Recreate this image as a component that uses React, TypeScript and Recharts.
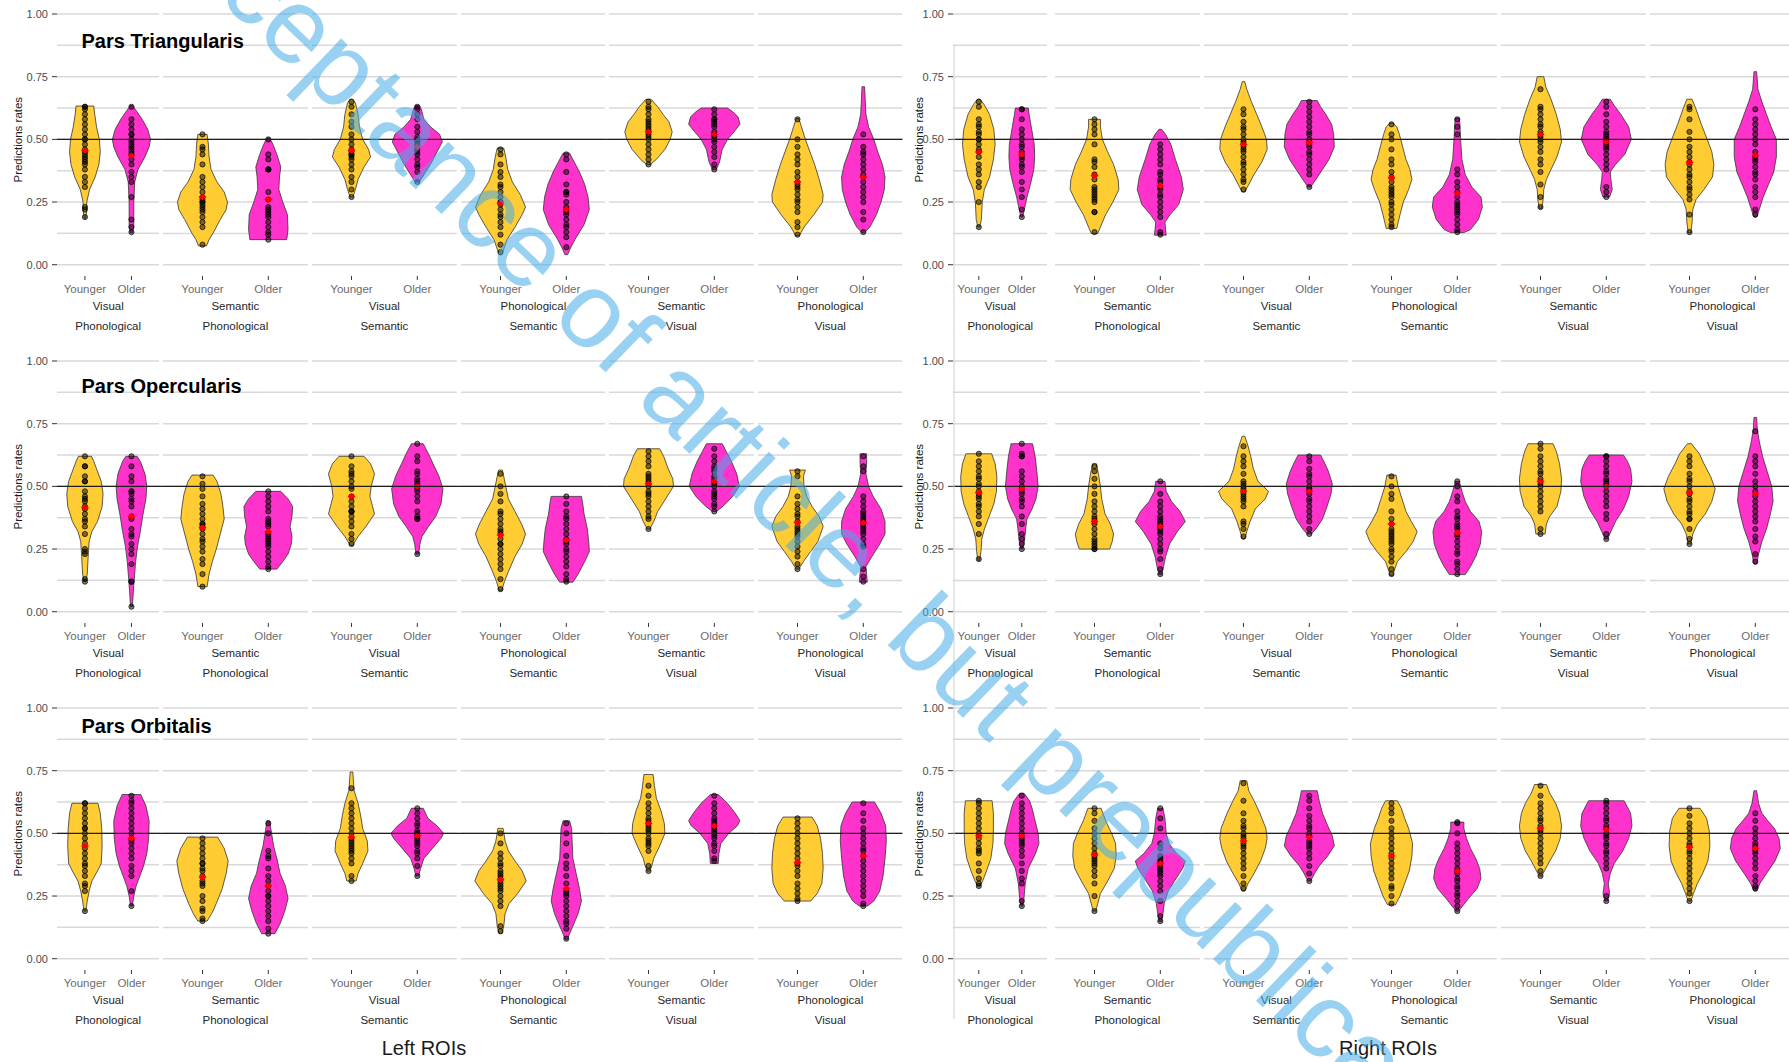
import React from 'react';
import { ComposedChart, Scatter, XAxis, YAxis, CartesianGrid, ReferenceLine } from 'recharts';

type Outline = [number, number][];

// ---- categories and labels ----
const ageGroups = ['Younger', 'Older'];
const contrastTop = ['Visual', 'Semantic', 'Visual', 'Phonological', 'Semantic', 'Phonological'];
const contrastBottom = ['Phonological', 'Phonological', 'Semantic', 'Semantic', 'Visual', 'Visual'];
const regionTitles = ['Pars Triangularis', 'Pars Opercularis', 'Pars Orbitalis'];
const hemisphereTitles = ['Left ROIs', 'Right ROIs'];
const yAxisTitle = 'Predictions rates';
const yTickValues = [0, 0.25, 0.5, 0.75, 1];
const gridValues = [0, 0.125, 0.25, 0.375, 0.5, 0.625, 0.75, 0.875, 1];
const chanceLevel = 0.5;
const noticeText = 'Acceptance of article, but prepublication';

// ---- violin outlines: [prediction rate, half width in category units], bottom to top ----
// order in every list: Younger, Older for each of the six contrasts
const triLeftShapes: Outline[] = [
  [[0.185, 0.01], [0.2, 0.03], [0.25, 0.04], [0.3, 0.1], [0.35, 0.22], [0.4, 0.3], [0.45, 0.33], [0.5, 0.31], [0.55, 0.25], [0.6, 0.21], [0.633, 0.19]],
  [[0.128, 0.02], [0.15, 0.05], [0.25, 0.05], [0.33, 0.07], [0.38, 0.14], [0.43, 0.29], [0.47, 0.38], [0.5, 0.41], [0.54, 0.35], [0.58, 0.23], [0.615, 0.1], [0.635, 0.02]],
  [[0.075, 0.06], [0.1, 0.1], [0.13, 0.17], [0.18, 0.27], [0.22, 0.36], [0.25, 0.38], [0.29, 0.33], [0.33, 0.22], [0.38, 0.13], [0.43, 0.1], [0.48, 0.09], [0.52, 0.07]],
  [[0.1, 0.28], [0.14, 0.3], [0.2, 0.29], [0.25, 0.22], [0.3, 0.16], [0.35, 0.17], [0.39, 0.19], [0.44, 0.13], [0.48, 0.07], [0.505, 0.02]],
  [[0.27, 0.02], [0.3, 0.06], [0.34, 0.1], [0.39, 0.19], [0.43, 0.29], [0.46, 0.26], [0.5, 0.17], [0.55, 0.12], [0.6, 0.1], [0.645, 0.06], [0.66, 0.02]],
  [[0.33, 0.03], [0.35, 0.08], [0.4, 0.2], [0.45, 0.3], [0.49, 0.38], [0.52, 0.34], [0.55, 0.2], [0.58, 0.1], [0.62, 0.06], [0.635, 0.03]],
  [[0.04, 0.02], [0.07, 0.06], [0.1, 0.1], [0.15, 0.22], [0.2, 0.33], [0.23, 0.38], [0.28, 0.3], [0.33, 0.18], [0.38, 0.11], [0.43, 0.08], [0.465, 0.05]],
  [[0.04, 0.02], [0.07, 0.07], [0.1, 0.13], [0.16, 0.27], [0.22, 0.35], [0.27, 0.33], [0.32, 0.28], [0.37, 0.2], [0.41, 0.12], [0.445, 0.05]],
  [[0.4, 0.03], [0.42, 0.12], [0.46, 0.25], [0.5, 0.33], [0.53, 0.36], [0.57, 0.31], [0.6, 0.22], [0.63, 0.14], [0.66, 0.04]],
  [[0.38, 0.03], [0.41, 0.08], [0.46, 0.12], [0.5, 0.2], [0.53, 0.3], [0.56, 0.39], [0.59, 0.36], [0.61, 0.28], [0.625, 0.2]],
  [[0.117, 0.03], [0.15, 0.1], [0.2, 0.25], [0.25, 0.38], [0.28, 0.39], [0.34, 0.33], [0.4, 0.26], [0.45, 0.19], [0.5, 0.12], [0.55, 0.06], [0.583, 0.02]],
  [[0.128, 0.02], [0.15, 0.1], [0.2, 0.2], [0.25, 0.27], [0.3, 0.32], [0.35, 0.33], [0.4, 0.29], [0.45, 0.22], [0.5, 0.16], [0.55, 0.08], [0.6, 0.04], [0.65, 0.03], [0.71, 0.02]],
];
const triRightShapes: Outline[] = [
  [[0.15, 0.02], [0.18, 0.06], [0.25, 0.08], [0.3, 0.13], [0.35, 0.25], [0.42, 0.34], [0.48, 0.38], [0.54, 0.35], [0.6, 0.25], [0.64, 0.12], [0.66, 0.03]],
  [[0.19, 0.02], [0.22, 0.06], [0.27, 0.12], [0.32, 0.2], [0.38, 0.28], [0.43, 0.3], [0.48, 0.29], [0.55, 0.22], [0.6, 0.17], [0.625, 0.15]],
  [[0.125, 0.05], [0.15, 0.09], [0.2, 0.17], [0.25, 0.28], [0.3, 0.37], [0.34, 0.36], [0.4, 0.29], [0.45, 0.2], [0.5, 0.12], [0.55, 0.09], [0.58, 0.09]],
  [[0.118, 0.09], [0.14, 0.08], [0.17, 0.07], [0.2, 0.15], [0.24, 0.28], [0.3, 0.35], [0.35, 0.32], [0.42, 0.23], [0.48, 0.16], [0.52, 0.08], [0.54, 0.02]],
  [[0.29, 0.02], [0.32, 0.08], [0.36, 0.16], [0.41, 0.28], [0.46, 0.36], [0.5, 0.35], [0.55, 0.28], [0.6, 0.2], [0.65, 0.12], [0.7, 0.05], [0.73, 0.02]],
  [[0.31, 0.02], [0.34, 0.1], [0.38, 0.2], [0.42, 0.3], [0.47, 0.38], [0.52, 0.37], [0.56, 0.34], [0.6, 0.25], [0.63, 0.17], [0.655, 0.12]],
  [[0.145, 0.08], [0.2, 0.13], [0.25, 0.18], [0.3, 0.26], [0.34, 0.31], [0.38, 0.28], [0.42, 0.22], [0.47, 0.17], [0.52, 0.12], [0.55, 0.08], [0.565, 0.02]],
  [[0.128, 0.1], [0.14, 0.2], [0.18, 0.32], [0.23, 0.38], [0.27, 0.36], [0.31, 0.22], [0.36, 0.12], [0.42, 0.07], [0.5, 0.05], [0.56, 0.04], [0.585, 0.03]],
  [[0.225, 0.02], [0.26, 0.04], [0.3, 0.05], [0.34, 0.09], [0.38, 0.16], [0.43, 0.25], [0.49, 0.32], [0.54, 0.3], [0.6, 0.24], [0.66, 0.16], [0.71, 0.08], [0.75, 0.05]],
  [[0.27, 0.05], [0.3, 0.09], [0.34, 0.07], [0.37, 0.06], [0.4, 0.14], [0.44, 0.28], [0.5, 0.38], [0.55, 0.34], [0.6, 0.22], [0.635, 0.12], [0.66, 0.06]],
  [[0.128, 0.02], [0.17, 0.04], [0.22, 0.05], [0.26, 0.1], [0.3, 0.22], [0.35, 0.35], [0.4, 0.37], [0.45, 0.34], [0.5, 0.27], [0.56, 0.18], [0.62, 0.1], [0.66, 0.04]],
  [[0.19, 0.02], [0.22, 0.06], [0.27, 0.12], [0.32, 0.2], [0.37, 0.28], [0.43, 0.32], [0.5, 0.32], [0.55, 0.24], [0.6, 0.17], [0.65, 0.1], [0.7, 0.04], [0.77, 0.02]],
];
const operLeftShapes: Outline[] = [
  [[0.122, 0.02], [0.15, 0.05], [0.22, 0.07], [0.28, 0.09], [0.32, 0.15], [0.36, 0.27], [0.42, 0.37], [0.47, 0.39], [0.52, 0.35], [0.57, 0.25], [0.6, 0.19], [0.62, 0.14]],
  [[0.02, 0.02], [0.08, 0.04], [0.13, 0.06], [0.2, 0.09], [0.26, 0.13], [0.32, 0.19], [0.39, 0.25], [0.45, 0.31], [0.5, 0.33], [0.55, 0.29], [0.6, 0.19], [0.62, 0.12]],
  [[0.1, 0.07], [0.15, 0.1], [0.2, 0.15], [0.25, 0.21], [0.31, 0.27], [0.37, 0.33], [0.42, 0.31], [0.47, 0.28], [0.52, 0.22], [0.545, 0.16]],
  [[0.17, 0.13], [0.2, 0.22], [0.23, 0.3], [0.27, 0.35], [0.3, 0.36], [0.34, 0.33], [0.38, 0.36], [0.42, 0.37], [0.45, 0.3], [0.48, 0.19]],
  [[0.265, 0.02], [0.3, 0.1], [0.34, 0.22], [0.39, 0.35], [0.43, 0.31], [0.46, 0.28], [0.5, 0.3], [0.55, 0.35], [0.59, 0.29], [0.62, 0.19]],
  [[0.23, 0.02], [0.27, 0.04], [0.3, 0.07], [0.34, 0.17], [0.38, 0.28], [0.43, 0.36], [0.49, 0.39], [0.54, 0.33], [0.59, 0.24], [0.63, 0.17], [0.67, 0.09]],
  [[0.085, 0.02], [0.12, 0.06], [0.16, 0.12], [0.22, 0.22], [0.27, 0.33], [0.31, 0.38], [0.35, 0.32], [0.4, 0.22], [0.45, 0.12], [0.5, 0.08], [0.565, 0.03]],
  [[0.118, 0.1], [0.15, 0.18], [0.2, 0.28], [0.24, 0.35], [0.28, 0.34], [0.33, 0.32], [0.39, 0.27], [0.43, 0.25], [0.46, 0.23]],
  [[0.33, 0.02], [0.36, 0.08], [0.4, 0.14], [0.45, 0.26], [0.5, 0.38], [0.53, 0.37], [0.57, 0.3], [0.62, 0.23], [0.65, 0.17]],
  [[0.4, 0.03], [0.42, 0.13], [0.46, 0.28], [0.5, 0.38], [0.55, 0.34], [0.6, 0.26], [0.64, 0.18], [0.67, 0.12]],
  [[0.17, 0.02], [0.2, 0.09], [0.24, 0.2], [0.28, 0.31], [0.34, 0.39], [0.38, 0.33], [0.42, 0.22], [0.46, 0.14], [0.5, 0.1], [0.54, 0.09], [0.565, 0.12]],
  [[0.118, 0.06], [0.15, 0.05], [0.18, 0.04], [0.22, 0.13], [0.27, 0.25], [0.31, 0.33], [0.36, 0.33], [0.41, 0.27], [0.46, 0.15], [0.5, 0.08], [0.55, 0.04], [0.6, 0.05], [0.63, 0.05]],
];
const operRightShapes: Outline[] = [
  [[0.205, 0.02], [0.24, 0.05], [0.29, 0.07], [0.33, 0.13], [0.38, 0.24], [0.43, 0.35], [0.48, 0.41], [0.54, 0.42], [0.59, 0.38], [0.63, 0.3]],
  [[0.25, 0.02], [0.28, 0.06], [0.33, 0.09], [0.37, 0.12], [0.41, 0.24], [0.45, 0.33], [0.5, 0.38], [0.56, 0.35], [0.62, 0.31], [0.67, 0.25]],
  [[0.25, 0.23], [0.28, 0.27], [0.31, 0.29], [0.35, 0.24], [0.39, 0.16], [0.45, 0.11], [0.5, 0.09], [0.55, 0.06], [0.59, 0.03]],
  [[0.148, 0.02], [0.18, 0.05], [0.22, 0.08], [0.27, 0.14], [0.32, 0.26], [0.36, 0.38], [0.4, 0.3], [0.44, 0.17], [0.48, 0.09], [0.52, 0.07]],
  [[0.29, 0.02], [0.32, 0.05], [0.36, 0.1], [0.41, 0.18], [0.45, 0.33], [0.48, 0.38], [0.52, 0.22], [0.57, 0.15], [0.62, 0.11], [0.66, 0.07], [0.7, 0.02]],
  [[0.31, 0.03], [0.33, 0.1], [0.37, 0.2], [0.42, 0.27], [0.47, 0.33], [0.51, 0.35], [0.56, 0.29], [0.6, 0.22], [0.625, 0.17]],
  [[0.145, 0.02], [0.17, 0.05], [0.2, 0.09], [0.24, 0.22], [0.28, 0.33], [0.32, 0.39], [0.36, 0.3], [0.4, 0.22], [0.45, 0.16], [0.5, 0.1], [0.545, 0.07]],
  [[0.148, 0.12], [0.18, 0.2], [0.22, 0.28], [0.27, 0.35], [0.32, 0.37], [0.36, 0.33], [0.4, 0.2], [0.44, 0.12], [0.48, 0.07], [0.52, 0.03]],
  [[0.31, 0.07], [0.35, 0.09], [0.38, 0.14], [0.42, 0.25], [0.48, 0.31], [0.53, 0.32], [0.59, 0.29], [0.64, 0.24], [0.67, 0.19]],
  [[0.29, 0.02], [0.32, 0.07], [0.36, 0.14], [0.41, 0.26], [0.46, 0.34], [0.52, 0.39], [0.57, 0.37], [0.6, 0.32], [0.625, 0.26]],
  [[0.27, 0.02], [0.31, 0.05], [0.35, 0.12], [0.39, 0.24], [0.44, 0.34], [0.49, 0.39], [0.54, 0.32], [0.59, 0.22], [0.63, 0.15], [0.67, 0.03]],
  [[0.19, 0.02], [0.23, 0.05], [0.28, 0.1], [0.33, 0.17], [0.38, 0.22], [0.44, 0.27], [0.5, 0.25], [0.56, 0.18], [0.62, 0.11], [0.68, 0.06], [0.73, 0.03], [0.775, 0.02]],
];
const orbLeftShapes: Outline[] = [
  [[0.19, 0.02], [0.23, 0.05], [0.27, 0.09], [0.31, 0.15], [0.35, 0.27], [0.38, 0.35], [0.45, 0.37], [0.52, 0.36], [0.58, 0.33], [0.62, 0.28]],
  [[0.21, 0.02], [0.25, 0.05], [0.29, 0.1], [0.33, 0.18], [0.37, 0.26], [0.42, 0.33], [0.48, 0.37], [0.55, 0.38], [0.61, 0.31], [0.655, 0.2]],
  [[0.15, 0.07], [0.18, 0.14], [0.22, 0.21], [0.28, 0.3], [0.34, 0.36], [0.39, 0.39], [0.44, 0.33], [0.485, 0.23]],
  [[0.1, 0.1], [0.14, 0.18], [0.19, 0.25], [0.24, 0.3], [0.29, 0.26], [0.34, 0.18], [0.4, 0.13], [0.45, 0.08], [0.5, 0.05], [0.55, 0.02]],
  [[0.31, 0.07], [0.34, 0.1], [0.38, 0.17], [0.43, 0.25], [0.47, 0.24], [0.52, 0.17], [0.57, 0.14], [0.62, 0.1], [0.67, 0.04], [0.745, 0.02]],
  [[0.33, 0.02], [0.36, 0.05], [0.4, 0.1], [0.44, 0.23], [0.48, 0.36], [0.5, 0.4], [0.53, 0.3], [0.56, 0.16], [0.6, 0.09]],
  [[0.1, 0.02], [0.13, 0.05], [0.18, 0.07], [0.22, 0.13], [0.26, 0.26], [0.31, 0.39], [0.35, 0.33], [0.39, 0.22], [0.43, 0.12], [0.47, 0.07], [0.52, 0.04]],
  [[0.078, 0.02], [0.1, 0.05], [0.13, 0.1], [0.18, 0.18], [0.23, 0.23], [0.28, 0.2], [0.34, 0.15], [0.4, 0.1], [0.46, 0.09], [0.52, 0.08], [0.55, 0.05]],
  [[0.35, 0.02], [0.37, 0.05], [0.4, 0.08], [0.45, 0.17], [0.5, 0.25], [0.54, 0.24], [0.59, 0.19], [0.64, 0.12], [0.69, 0.09], [0.735, 0.07]],
  [[0.38, 0.06], [0.42, 0.07], [0.46, 0.1], [0.5, 0.22], [0.53, 0.35], [0.55, 0.39], [0.58, 0.32], [0.62, 0.2], [0.655, 0.06]],
  [[0.23, 0.2], [0.26, 0.3], [0.3, 0.37], [0.36, 0.39], [0.42, 0.38], [0.48, 0.35], [0.53, 0.3], [0.565, 0.22]],
  [[0.21, 0.06], [0.23, 0.16], [0.27, 0.25], [0.33, 0.3], [0.4, 0.33], [0.47, 0.35], [0.53, 0.34], [0.58, 0.27], [0.625, 0.17]],
];
const orbRightShapes: Outline[] = [
  [[0.29, 0.02], [0.31, 0.09], [0.35, 0.18], [0.4, 0.28], [0.46, 0.33], [0.52, 0.34], [0.58, 0.34], [0.63, 0.31]],
  [[0.21, 0.02], [0.24, 0.05], [0.3, 0.08], [0.36, 0.15], [0.42, 0.32], [0.46, 0.4], [0.5, 0.38], [0.55, 0.31], [0.6, 0.24], [0.63, 0.18], [0.66, 0.05]],
  [[0.19, 0.02], [0.22, 0.05], [0.26, 0.09], [0.31, 0.2], [0.36, 0.3], [0.41, 0.33], [0.46, 0.32], [0.5, 0.26], [0.55, 0.17], [0.6, 0.1]],
  [[0.148, 0.02], [0.18, 0.04], [0.22, 0.06], [0.27, 0.12], [0.32, 0.24], [0.36, 0.34], [0.39, 0.38], [0.42, 0.25], [0.46, 0.13], [0.5, 0.09], [0.56, 0.07], [0.6, 0.04]],
  [[0.27, 0.02], [0.3, 0.07], [0.34, 0.16], [0.39, 0.26], [0.44, 0.33], [0.48, 0.36], [0.52, 0.34], [0.58, 0.25], [0.63, 0.16], [0.67, 0.08], [0.71, 0.05]],
  [[0.31, 0.02], [0.34, 0.08], [0.37, 0.15], [0.41, 0.28], [0.45, 0.38], [0.49, 0.35], [0.53, 0.28], [0.58, 0.2], [0.63, 0.15], [0.67, 0.12]],
  [[0.215, 0.06], [0.25, 0.13], [0.3, 0.2], [0.35, 0.27], [0.41, 0.31], [0.46, 0.32], [0.52, 0.26], [0.56, 0.2], [0.6, 0.15], [0.63, 0.09]],
  [[0.19, 0.02], [0.21, 0.08], [0.24, 0.17], [0.28, 0.3], [0.32, 0.36], [0.36, 0.34], [0.4, 0.28], [0.44, 0.2], [0.48, 0.14], [0.52, 0.1], [0.545, 0.1]],
  [[0.33, 0.02], [0.35, 0.06], [0.39, 0.14], [0.43, 0.23], [0.48, 0.3], [0.53, 0.32], [0.58, 0.29], [0.62, 0.23], [0.66, 0.14], [0.695, 0.09]],
  [[0.23, 0.02], [0.26, 0.05], [0.3, 0.03], [0.34, 0.06], [0.38, 0.12], [0.43, 0.25], [0.48, 0.34], [0.53, 0.39], [0.58, 0.37], [0.63, 0.27]],
  [[0.23, 0.02], [0.26, 0.06], [0.3, 0.12], [0.34, 0.2], [0.39, 0.28], [0.45, 0.31], [0.51, 0.3], [0.56, 0.26], [0.6, 0.16]],
  [[0.27, 0.02], [0.3, 0.07], [0.34, 0.17], [0.39, 0.3], [0.44, 0.38], [0.48, 0.36], [0.52, 0.29], [0.55, 0.19], [0.58, 0.1], [0.62, 0.05], [0.67, 0.02]],
];

// ---- individual participants' prediction rates ----
const triLeftDots: number[][] = [
  [0.19, 0.22, 0.23, 0.31, 0.33, 0.35, 0.38, 0.4, 0.41, 0.42, 0.43, 0.44, 0.45, 0.46, 0.48, 0.5, 0.5, 0.52, 0.54, 0.56, 0.58, 0.6, 0.62, 0.63, 0.63],
  [0.13, 0.15, 0.18, 0.27, 0.33, 0.35, 0.37, 0.4, 0.42, 0.44, 0.45, 0.46, 0.47, 0.48, 0.49, 0.5, 0.52, 0.52, 0.54, 0.56, 0.58, 0.63],
  [0.08, 0.15, 0.17, 0.19, 0.21, 0.22, 0.23, 0.24, 0.25, 0.25, 0.26, 0.27, 0.29, 0.31, 0.33, 0.35, 0.4, 0.44, 0.46, 0.47, 0.52],
  [0.1, 0.12, 0.13, 0.15, 0.17, 0.19, 0.2, 0.21, 0.22, 0.23, 0.26, 0.29, 0.38, 0.38, 0.38, 0.42, 0.44, 0.5],
  [0.27, 0.3, 0.33, 0.35, 0.38, 0.4, 0.42, 0.43, 0.44, 0.44, 0.45, 0.46, 0.48, 0.5, 0.52, 0.55, 0.57, 0.6, 0.63, 0.65],
  [0.33, 0.37, 0.39, 0.4, 0.42, 0.44, 0.45, 0.46, 0.47, 0.48, 0.49, 0.5, 0.51, 0.53, 0.55, 0.58, 0.6, 0.62, 0.63],
  [0.05, 0.08, 0.12, 0.15, 0.17, 0.19, 0.2, 0.22, 0.24, 0.25, 0.25, 0.27, 0.29, 0.31, 0.32, 0.35, 0.37, 0.4, 0.44, 0.46],
  [0.07, 0.11, 0.13, 0.15, 0.16, 0.18, 0.2, 0.21, 0.22, 0.23, 0.25, 0.28, 0.29, 0.29, 0.32, 0.37, 0.42, 0.44],
  [0.4, 0.42, 0.44, 0.46, 0.48, 0.5, 0.51, 0.52, 0.53, 0.54, 0.55, 0.56, 0.57, 0.58, 0.6, 0.62, 0.63, 0.65],
  [0.38, 0.4, 0.43, 0.45, 0.47, 0.49, 0.5, 0.51, 0.52, 0.53, 0.55, 0.56, 0.57, 0.58, 0.58, 0.6, 0.62],
  [0.12, 0.15, 0.17, 0.21, 0.23, 0.25, 0.26, 0.28, 0.3, 0.31, 0.32, 0.33, 0.35, 0.37, 0.4, 0.42, 0.44, 0.47, 0.5, 0.58],
  [0.13, 0.18, 0.21, 0.25, 0.27, 0.29, 0.31, 0.33, 0.35, 0.36, 0.38, 0.4, 0.42, 0.44, 0.45, 0.47, 0.52],
];
const triRightDots: number[][] = [
  [0.15, 0.25, 0.31, 0.33, 0.36, 0.38, 0.4, 0.43, 0.45, 0.46, 0.48, 0.5, 0.5, 0.52, 0.53, 0.55, 0.56, 0.58, 0.63, 0.65],
  [0.19, 0.22, 0.27, 0.3, 0.33, 0.37, 0.39, 0.4, 0.42, 0.43, 0.45, 0.47, 0.48, 0.5, 0.52, 0.54, 0.58, 0.62, 0.62],
  [0.13, 0.21, 0.21, 0.25, 0.26, 0.27, 0.28, 0.29, 0.3, 0.31, 0.34, 0.36, 0.39, 0.41, 0.42, 0.48, 0.52, 0.54, 0.56, 0.58],
  [0.12, 0.13, 0.19, 0.21, 0.23, 0.25, 0.27, 0.28, 0.3, 0.31, 0.33, 0.34, 0.36, 0.37, 0.4, 0.42, 0.44, 0.46, 0.48],
  [0.3, 0.33, 0.34, 0.36, 0.38, 0.4, 0.41, 0.43, 0.45, 0.46, 0.47, 0.48, 0.49, 0.5, 0.52, 0.54, 0.55, 0.57, 0.6, 0.62],
  [0.31, 0.36, 0.38, 0.4, 0.42, 0.44, 0.45, 0.47, 0.48, 0.49, 0.5, 0.52, 0.53, 0.55, 0.57, 0.59, 0.61, 0.63, 0.65],
  [0.15, 0.16, 0.18, 0.2, 0.22, 0.24, 0.25, 0.27, 0.28, 0.29, 0.3, 0.31, 0.33, 0.35, 0.37, 0.4, 0.42, 0.46, 0.5, 0.52, 0.56],
  [0.13, 0.14, 0.16, 0.18, 0.2, 0.21, 0.22, 0.23, 0.24, 0.25, 0.27, 0.29, 0.31, 0.33, 0.36, 0.38, 0.52, 0.55, 0.58],
  [0.23, 0.27, 0.32, 0.37, 0.4, 0.42, 0.45, 0.47, 0.49, 0.5, 0.51, 0.52, 0.53, 0.55, 0.56, 0.58, 0.6, 0.62, 0.63, 0.7],
  [0.27, 0.29, 0.31, 0.38, 0.4, 0.42, 0.44, 0.46, 0.47, 0.48, 0.49, 0.5, 0.51, 0.52, 0.53, 0.55, 0.57, 0.6, 0.63, 0.65],
  [0.13, 0.2, 0.26, 0.28, 0.3, 0.31, 0.33, 0.35, 0.36, 0.38, 0.4, 0.41, 0.43, 0.45, 0.47, 0.5, 0.53, 0.58, 0.62, 0.63],
  [0.2, 0.22, 0.27, 0.29, 0.31, 0.34, 0.36, 0.37, 0.39, 0.41, 0.42, 0.43, 0.45, 0.48, 0.5, 0.52, 0.54, 0.56, 0.58, 0.62],
];
const operLeftDots: number[][] = [
  [0.12, 0.13, 0.23, 0.24, 0.25, 0.31, 0.34, 0.36, 0.37, 0.39, 0.41, 0.42, 0.44, 0.45, 0.46, 0.48, 0.52, 0.52, 0.54, 0.58, 0.58, 0.62],
  [0.02, 0.12, 0.12, 0.19, 0.23, 0.25, 0.27, 0.3, 0.31, 0.33, 0.37, 0.38, 0.42, 0.44, 0.45, 0.47, 0.48, 0.48, 0.52, 0.54, 0.58, 0.62],
  [0.1, 0.15, 0.19, 0.21, 0.24, 0.26, 0.28, 0.29, 0.31, 0.33, 0.34, 0.35, 0.35, 0.37, 0.39, 0.41, 0.43, 0.46, 0.49, 0.51, 0.54],
  [0.17, 0.18, 0.2, 0.22, 0.24, 0.26, 0.27, 0.28, 0.29, 0.3, 0.31, 0.34, 0.35, 0.36, 0.37, 0.4, 0.42, 0.44, 0.46, 0.48],
  [0.27, 0.29, 0.31, 0.34, 0.36, 0.38, 0.4, 0.4, 0.4, 0.42, 0.44, 0.46, 0.49, 0.5, 0.52, 0.54, 0.55, 0.56, 0.58, 0.62],
  [0.23, 0.37, 0.37, 0.38, 0.4, 0.44, 0.46, 0.48, 0.49, 0.5, 0.51, 0.52, 0.53, 0.55, 0.56, 0.6, 0.62, 0.67],
  [0.09, 0.13, 0.17, 0.19, 0.21, 0.23, 0.25, 0.27, 0.27, 0.29, 0.31, 0.32, 0.33, 0.35, 0.37, 0.39, 0.4, 0.44, 0.47, 0.5, 0.55],
  [0.12, 0.13, 0.15, 0.18, 0.2, 0.22, 0.24, 0.25, 0.27, 0.28, 0.29, 0.31, 0.33, 0.35, 0.37, 0.38, 0.4, 0.43, 0.46],
  [0.33, 0.37, 0.38, 0.4, 0.42, 0.44, 0.46, 0.47, 0.48, 0.5, 0.51, 0.52, 0.53, 0.54, 0.55, 0.58, 0.6, 0.62, 0.64],
  [0.4, 0.42, 0.43, 0.45, 0.46, 0.47, 0.48, 0.5, 0.51, 0.52, 0.53, 0.54, 0.56, 0.57, 0.58, 0.6, 0.62, 0.65],
  [0.17, 0.19, 0.22, 0.24, 0.26, 0.28, 0.3, 0.31, 0.32, 0.33, 0.34, 0.36, 0.38, 0.39, 0.41, 0.43, 0.46, 0.54, 0.56],
  [0.12, 0.14, 0.17, 0.26, 0.27, 0.29, 0.31, 0.32, 0.33, 0.34, 0.35, 0.36, 0.37, 0.38, 0.39, 0.4, 0.42, 0.44, 0.46, 0.56, 0.58, 0.62],
];
const operRightDots: number[][] = [
  [0.21, 0.31, 0.35, 0.38, 0.4, 0.42, 0.43, 0.45, 0.46, 0.47, 0.48, 0.5, 0.51, 0.53, 0.54, 0.56, 0.58, 0.6, 0.63],
  [0.25, 0.27, 0.29, 0.31, 0.35, 0.38, 0.42, 0.44, 0.45, 0.47, 0.48, 0.5, 0.52, 0.54, 0.56, 0.62, 0.62, 0.63, 0.67],
  [0.25, 0.25, 0.26, 0.27, 0.28, 0.29, 0.31, 0.33, 0.35, 0.36, 0.37, 0.38, 0.4, 0.42, 0.44, 0.47, 0.5, 0.53, 0.56, 0.58],
  [0.15, 0.17, 0.21, 0.24, 0.25, 0.27, 0.29, 0.31, 0.32, 0.33, 0.34, 0.35, 0.36, 0.37, 0.38, 0.4, 0.42, 0.44, 0.47, 0.52],
  [0.3, 0.33, 0.35, 0.36, 0.42, 0.44, 0.45, 0.46, 0.47, 0.48, 0.49, 0.5, 0.51, 0.52, 0.55, 0.58, 0.6, 0.62, 0.66],
  [0.31, 0.33, 0.36, 0.38, 0.4, 0.42, 0.44, 0.45, 0.47, 0.48, 0.49, 0.5, 0.52, 0.54, 0.55, 0.57, 0.6, 0.62],
  [0.15, 0.17, 0.2, 0.22, 0.24, 0.25, 0.27, 0.28, 0.29, 0.3, 0.31, 0.32, 0.33, 0.35, 0.37, 0.4, 0.45, 0.47, 0.5, 0.54],
  [0.15, 0.17, 0.19, 0.2, 0.23, 0.24, 0.26, 0.28, 0.3, 0.31, 0.33, 0.34, 0.35, 0.37, 0.38, 0.4, 0.44, 0.46, 0.5, 0.52],
  [0.31, 0.33, 0.4, 0.42, 0.44, 0.46, 0.48, 0.5, 0.51, 0.52, 0.53, 0.55, 0.56, 0.58, 0.6, 0.62, 0.65, 0.67],
  [0.29, 0.31, 0.37, 0.39, 0.42, 0.44, 0.46, 0.48, 0.5, 0.51, 0.52, 0.53, 0.55, 0.56, 0.58, 0.6, 0.62, 0.62],
  [0.27, 0.29, 0.33, 0.37, 0.37, 0.39, 0.4, 0.42, 0.44, 0.45, 0.47, 0.48, 0.5, 0.52, 0.53, 0.55, 0.58, 0.6, 0.62],
  [0.2, 0.23, 0.28, 0.3, 0.33, 0.36, 0.38, 0.4, 0.42, 0.44, 0.46, 0.48, 0.5, 0.52, 0.55, 0.58, 0.6, 0.62, 0.72],
];
const orbLeftDots: number[][] = [
  [0.19, 0.27, 0.29, 0.3, 0.33, 0.35, 0.37, 0.38, 0.4, 0.42, 0.44, 0.46, 0.48, 0.5, 0.52, 0.52, 0.54, 0.56, 0.58, 0.6, 0.62, 0.62],
  [0.21, 0.27, 0.33, 0.35, 0.37, 0.4, 0.42, 0.44, 0.46, 0.47, 0.48, 0.5, 0.52, 0.54, 0.56, 0.58, 0.6, 0.62, 0.63, 0.65],
  [0.15, 0.16, 0.19, 0.2, 0.23, 0.25, 0.29, 0.3, 0.31, 0.33, 0.35, 0.36, 0.38, 0.38, 0.4, 0.42, 0.44, 0.46, 0.48],
  [0.1, 0.12, 0.15, 0.17, 0.19, 0.21, 0.23, 0.25, 0.25, 0.27, 0.29, 0.31, 0.33, 0.36, 0.4, 0.41, 0.43, 0.5, 0.54],
  [0.31, 0.33, 0.38, 0.4, 0.42, 0.43, 0.44, 0.45, 0.46, 0.47, 0.48, 0.5, 0.52, 0.54, 0.56, 0.58, 0.6, 0.62, 0.68],
  [0.33, 0.37, 0.4, 0.42, 0.43, 0.45, 0.46, 0.47, 0.48, 0.49, 0.5, 0.5, 0.51, 0.53, 0.54, 0.56, 0.58, 0.6],
  [0.11, 0.13, 0.21, 0.23, 0.25, 0.27, 0.28, 0.29, 0.3, 0.31, 0.32, 0.33, 0.34, 0.35, 0.37, 0.38, 0.4, 0.42, 0.46, 0.5],
  [0.08, 0.12, 0.14, 0.15, 0.17, 0.19, 0.21, 0.23, 0.25, 0.26, 0.27, 0.3, 0.33, 0.36, 0.38, 0.41, 0.46, 0.5, 0.54],
  [0.35, 0.37, 0.43, 0.45, 0.46, 0.47, 0.48, 0.5, 0.51, 0.52, 0.53, 0.54, 0.55, 0.56, 0.58, 0.6, 0.62, 0.65, 0.69],
  [0.39, 0.4, 0.43, 0.45, 0.46, 0.48, 0.49, 0.5, 0.51, 0.52, 0.53, 0.54, 0.55, 0.56, 0.58, 0.6, 0.62, 0.65],
  [0.23, 0.24, 0.26, 0.28, 0.3, 0.33, 0.35, 0.37, 0.38, 0.4, 0.42, 0.44, 0.46, 0.48, 0.5, 0.52, 0.54, 0.56],
  [0.21, 0.22, 0.25, 0.27, 0.29, 0.31, 0.33, 0.35, 0.37, 0.39, 0.41, 0.43, 0.44, 0.46, 0.48, 0.5, 0.52, 0.55, 0.58, 0.62],
];
const orbRightDots: number[][] = [
  [0.29, 0.3, 0.32, 0.35, 0.38, 0.42, 0.43, 0.44, 0.46, 0.48, 0.5, 0.52, 0.54, 0.56, 0.58, 0.6, 0.62, 0.63],
  [0.21, 0.23, 0.3, 0.32, 0.35, 0.38, 0.41, 0.43, 0.45, 0.46, 0.47, 0.48, 0.5, 0.52, 0.54, 0.56, 0.58, 0.6, 0.62, 0.65],
  [0.19, 0.25, 0.3, 0.33, 0.35, 0.37, 0.38, 0.39, 0.4, 0.41, 0.42, 0.44, 0.46, 0.48, 0.5, 0.52, 0.55, 0.58, 0.6],
  [0.15, 0.17, 0.23, 0.27, 0.29, 0.31, 0.33, 0.34, 0.35, 0.36, 0.37, 0.38, 0.39, 0.4, 0.41, 0.44, 0.46, 0.52, 0.56, 0.6],
  [0.28, 0.3, 0.33, 0.36, 0.38, 0.4, 0.42, 0.44, 0.45, 0.46, 0.48, 0.49, 0.5, 0.52, 0.53, 0.55, 0.58, 0.63, 0.7],
  [0.31, 0.34, 0.37, 0.4, 0.42, 0.44, 0.45, 0.46, 0.47, 0.49, 0.5, 0.52, 0.53, 0.55, 0.57, 0.6, 0.63, 0.65],
  [0.22, 0.25, 0.28, 0.29, 0.32, 0.34, 0.36, 0.38, 0.4, 0.42, 0.44, 0.46, 0.48, 0.5, 0.52, 0.55, 0.58, 0.6, 0.62],
  [0.19, 0.21, 0.23, 0.25, 0.26, 0.28, 0.29, 0.31, 0.32, 0.34, 0.35, 0.36, 0.38, 0.4, 0.42, 0.44, 0.46, 0.5, 0.54, 0.545],
  [0.33, 0.35, 0.38, 0.4, 0.42, 0.44, 0.46, 0.48, 0.5, 0.51, 0.52, 0.53, 0.55, 0.56, 0.58, 0.6, 0.62, 0.65, 0.69],
  [0.23, 0.25, 0.36, 0.38, 0.4, 0.42, 0.43, 0.45, 0.46, 0.48, 0.49, 0.5, 0.52, 0.53, 0.55, 0.56, 0.58, 0.6, 0.62, 0.63],
  [0.23, 0.26, 0.28, 0.3, 0.32, 0.34, 0.36, 0.38, 0.4, 0.42, 0.43, 0.45, 0.46, 0.48, 0.5, 0.52, 0.54, 0.57, 0.6],
  [0.28, 0.29, 0.31, 0.33, 0.36, 0.38, 0.4, 0.42, 0.43, 0.44, 0.45, 0.46, 0.48, 0.5, 0.52, 0.55, 0.58],
];

// ---- group means ----
const triLeftMeans = [0.455, 0.435, 0.27, 0.26, 0.455, 0.47, 0.245, 0.22, 0.53, 0.52, 0.33, 0.35];
const triRightMeans = [0.45, 0.44, 0.355, 0.315, 0.48, 0.487, 0.345, 0.285, 0.52, 0.49, 0.408, 0.437];
const operLeftMeans = [0.415, 0.38, 0.335, 0.32, 0.46, 0.5, 0.305, 0.285, 0.51, 0.52, 0.355, 0.355];
const operRightMeans = [0.475, 0.49, 0.36, 0.34, 0.48, 0.48, 0.35, 0.315, 0.52, 0.5, 0.475, 0.47];
const orbLeftMeans = [0.45, 0.48, 0.325, 0.29, 0.485, 0.49, 0.315, 0.28, 0.54, 0.53, 0.385, 0.41];
const orbRightMeans = [0.49, 0.49, 0.415, 0.38, 0.47, 0.485, 0.41, 0.35, 0.52, 0.515, 0.445, 0.44];

const panels = [
  { row: 0, side: 0, shapes: triLeftShapes, dots: triLeftDots, means: triLeftMeans },
  { row: 0, side: 1, shapes: triRightShapes, dots: triRightDots, means: triRightMeans },
  { row: 1, side: 0, shapes: operLeftShapes, dots: operLeftDots, means: operLeftMeans },
  { row: 1, side: 1, shapes: operRightShapes, dots: operRightDots, means: operRightMeans },
  { row: 2, side: 0, shapes: orbLeftShapes, dots: orbLeftDots, means: orbLeftMeans },
  { row: 2, side: 1, shapes: orbRightShapes, dots: orbRightDots, means: orbRightMeans },
];

// ---- look and layout ----
const FONT = '"Liberation Sans", Arial, Helvetica, sans-serif';
const ageFills = ['#FFCC33', '#FF33CC'];
const PAGE_W = 1789;
const PAGE_H = 1062;
const ROW_PITCH = 347;
const CHART_H = 340;
const PLOT_TOP = 2.72;
const AGE_AXIS_H = 24;
const GROUP_AXIS_H = 40;
const AXIS_W = 57;
const TICK_GAP = 3;
const FACET_W = 144.8;
const X_DOMAIN: [number, number] = [0.4, 2.6];
const Y_DOMAIN: [number, number] = [-0.045, 1.045];
const NOTICE_X = 808;
const NOTICE_Y = 568;
const NOTICE_ANGLE = 44;

const sides = [
  { firstStart: 57, firstWidth: 102.4, centers: [235.7, 384.3, 532.9, 681.5, 830.1], end: 902.5, titleX: 22.2 },
  { firstStart: 952.7, firstWidth: 94.6, centers: [1127.5, 1276.1, 1424.7, 1573.3, 1721.9], end: 1794.3, titleX: 922.6 },
];

function violinPoints(outline: Outline, center: number) {
  const leftSide = outline.map(([y, w]) => ({ x: center - w, y }));
  const rightSide = outline.slice().reverse().map(([y, w]) => ({ x: center + w, y }));
  return [...leftSide, ...rightSide, leftSide[0]];
}

const hiddenPoint = () => <g />;

const dotShape = (p: any) => (
  <circle cx={p.cx} cy={p.cy} r={2.6} fill="#000" fillOpacity={0.5} stroke="#000" strokeOpacity={0.85} strokeWidth={0.8} />
);

const meanShape = (p: any) => (
  <polygon
    points={`${p.cx - 4},${p.cy} ${p.cx},${p.cy - 3.2} ${p.cx + 4},${p.cy} ${p.cx},${p.cy + 3.2}`}
    fill="#FF0000"
  />
);

// tick label slot that draws nothing (keeps tick marks and grid lines)
const EmptyTick = () => <g />;

function AgeTick(props: any) {
  const { x, y, payload } = props;
  const label = ageGroups[Math.round(payload.value) - 1] ?? '';
  return (
    <text x={x} y={y + 11.3} textAnchor="middle" fontSize={11.5} fill="#6b6b6b" fontFamily={FONT}>
      {label}
    </text>
  );
}

function GroupTick(props: any) {
  const { x, y, upper, lower } = props;
  return (
    <g>
      <text x={x} y={y + 10} textAnchor="middle" fontSize={11.5} fill="#262626" fontFamily={FONT}>
        {upper}
      </text>
      <text x={x} y={y + 30} textAnchor="middle" fontSize={11.5} fill="#262626" fontFamily={FONT}>
        {lower}
      </text>
    </g>
  );
}

function Facet(props: {
  plotStart: number;
  plotWidth: number;
  top: number;
  withAxis: boolean;
  idx: number;
  shapes: Outline[];
  dots: number[][];
  means: number[];
}) {
  const { plotStart, plotWidth, top, withAxis, idx, shapes, dots, means } = props;
  const leftPad = withAxis ? AXIS_W : TICK_GAP;
  return (
    <div style={{ position: 'absolute', left: plotStart - leftPad, top }}>
      <ComposedChart
        width={leftPad + plotWidth}
        height={CHART_H}
        margin={{ top: PLOT_TOP, right: 0, bottom: 0, left: withAxis ? 0 : TICK_GAP }}
      >
        <CartesianGrid vertical={false} horizontalValues={gridValues} stroke="#d9d9d9" strokeWidth={1.5} />
        <XAxis
          type="number"
          dataKey="x"
          domain={X_DOMAIN}
          allowDataOverflow
          ticks={[1, 2]}
          interval={0}
          height={AGE_AXIS_H}
          tickSize={4}
          tickLine={{ stroke: '#333333' }}
          axisLine={false}
          tick={<AgeTick />}
        />
        <XAxis
          xAxisId="grp"
          type="number"
          dataKey="x"
          domain={X_DOMAIN}
          allowDataOverflow
          ticks={[1.5]}
          interval={0}
          height={GROUP_AXIS_H}
          tickSize={0}
          tickMargin={0}
          tickLine={false}
          axisLine={false}
          tick={<GroupTick upper={contrastTop[idx]} lower={contrastBottom[idx]} />}
        />
        <YAxis
          type="number"
          dataKey="y"
          domain={Y_DOMAIN}
          allowDataOverflow
          ticks={yTickValues}
          interval={0}
          width={withAxis ? AXIS_W : 0}
          tickSize={withAxis ? 5 : 3}
          tickMargin={4}
          axisLine={false}
          tickLine={{ stroke: '#333333' }}
          tick={withAxis ? { fontSize: 11, fill: '#4d4d4d', fontFamily: FONT } : <EmptyTick />}
          tickFormatter={(v: number) => v.toFixed(2)}
        />
        {[0, 1].map((g) => (
          <Scatter
            key={`violin-${g}`}
            data={violinPoints(shapes[2 * idx + g], g + 1)}
            line={{ fill: ageFills[g], stroke: '#333333', strokeWidth: 0.8 }}
            lineType="joint"
            lineJointType="linear"
            shape={hiddenPoint}
            isAnimationActive={false}
          />
        ))}
        {[0, 1].map((g) => (
          <Scatter
            key={`dots-${g}`}
            data={dots[2 * idx + g].map((v) => ({ x: g + 1, y: v }))}
            shape={dotShape}
            isAnimationActive={false}
          />
        ))}
        {[0, 1].map((g) => (
          <Scatter
            key={`mean-${g}`}
            data={[{ x: g + 1, y: means[2 * idx + g] }]}
            shape={meanShape}
            isAnimationActive={false}
          />
        ))}
      </ComposedChart>
    </div>
  );
}

function ChanceLine(props: { left: number; width: number; top: number }) {
  return (
    <div style={{ position: 'absolute', left: props.left, top: props.top, pointerEvents: 'none' }}>
      <ComposedChart
        width={props.width}
        height={CHART_H}
        data={[{ x: 0 }, { x: 1 }]}
        margin={{ top: PLOT_TOP, right: 0, bottom: AGE_AXIS_H + GROUP_AXIS_H, left: 0 }}
      >
        <XAxis type="number" dataKey="x" domain={[0, 1]} hide />
        <YAxis type="number" domain={Y_DOMAIN} allowDataOverflow hide />
        <ReferenceLine y={chanceLevel} stroke="#1f1f1f" strokeWidth={1.3} />
      </ComposedChart>
    </div>
  );
}

export default function App() {
  return (
    <div
      style={{
        position: 'absolute',
        left: 0,
        top: 0,
        width: PAGE_W,
        height: PAGE_H,
        overflow: 'hidden',
        background: '#ffffff',
        fontFamily: FONT,
      }}
    >
      {panels.map((panel) => {
        const s = sides[panel.side];
        const top = panel.row * ROW_PITCH;
        return (
          <React.Fragment key={`${panel.row}-${panel.side}`}>
            <Facet
              plotStart={s.firstStart}
              plotWidth={s.firstWidth}
              top={top}
              withAxis
              idx={0}
              shapes={panel.shapes}
              dots={panel.dots}
              means={panel.means}
            />
            {s.centers.map((c, i) => (
              <Facet
                key={i}
                plotStart={c - FACET_W / 2}
                plotWidth={FACET_W}
                top={top}
                withAxis={false}
                idx={i + 1}
                shapes={panel.shapes}
                dots={panel.dots}
                means={panel.means}
              />
            ))}
            <ChanceLine left={s.firstStart} width={s.end - s.firstStart} top={top} />
          </React.Fragment>
        );
      })}

      <svg
        width={PAGE_W}
        height={PAGE_H}
        style={{ position: 'absolute', left: 0, top: 0, pointerEvents: 'none' }}
      >
        <line x1={954} y1={45} x2={954} y2={1019} stroke="#cfcfcf" strokeWidth={1} />
        {regionTitles.map((t, r) => (
          <text
            key={t}
            x={81.5}
            y={[47.5, 392.5, 733][r]}
            fontSize={20}
            fontWeight="bold"
            fill="#000"
            fontFamily={FONT}
          >
            {t}
          </text>
        ))}
        {[0, 1, 2].map((r) =>
          sides.map((s, k) => {
            const cy = 139.7 + r * ROW_PITCH;
            return (
              <text
                key={`yt-${r}-${k}`}
                x={s.titleX}
                y={cy}
                transform={`rotate(-90 ${s.titleX} ${cy})`}
                textAnchor="middle"
                fontSize={11.5}
                fill="#1a1a1a"
                fontFamily={FONT}
              >
                {yAxisTitle}
              </text>
            );
          })
        )}
        {hemisphereTitles.map((t, k) => (
          <text key={t} x={[424, 1388][k]} y={1055} textAnchor="middle" fontSize={20} fill="#1a1a1a" fontFamily={FONT}>
            {t}
          </text>
        ))}
      </svg>

      <svg
        width={PAGE_W}
        height={PAGE_H}
        style={{ position: 'absolute', left: 0, top: 0, pointerEvents: 'none' }}
      >
        <text
          x={NOTICE_X}
          y={NOTICE_Y}
          transform={`rotate(${NOTICE_ANGLE} ${NOTICE_X} ${NOTICE_Y})`}
          textAnchor="middle"
          fontSize={107}
          fill="#45ABE8"
          fillOpacity={0.55}
          fontFamily={FONT}
        >
          {noticeText}
        </text>
      </svg>
    </div>
  );
}
